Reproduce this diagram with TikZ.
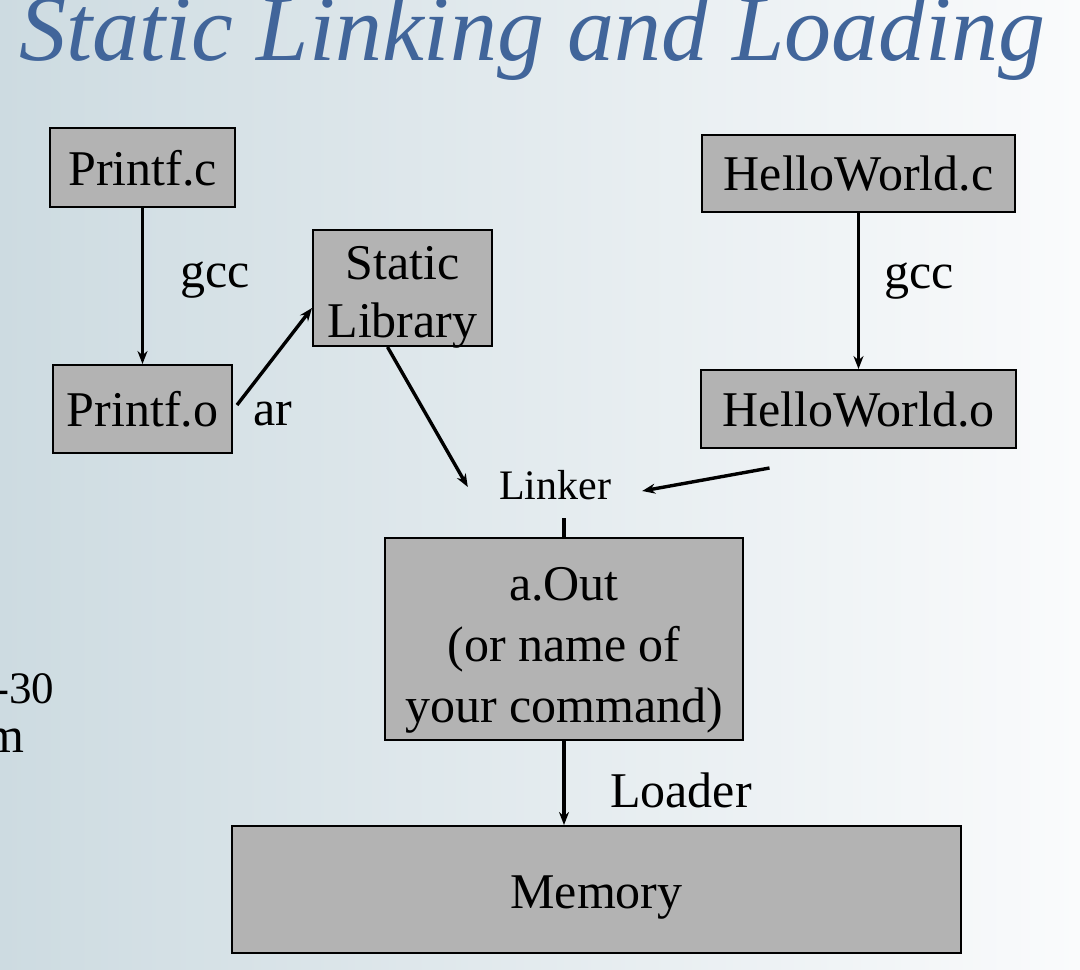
\documentclass[tikz,border=0pt]{standalone}
\usepackage{fontspec}
\setmainfont{LiberationSerif}[Extension=.ttf, UprightFont=*-Regular, ItalicFont=*-Italic, BoldFont=*-Bold, BoldItalicFont=*-BoldItalic]
\usetikzlibrary{arrows.meta}
\definecolor{bgleft}{RGB}{205,219,225}
\definecolor{bgright}{RGB}{250,251,252}
\definecolor{titleblue}{RGB}{65,101,154}
\definecolor{boxgray}{RGB}{179,179,179}
\tikzset{
  box/.style={draw=black, line width=2pt, fill=boxgray, inner sep=0pt, align=center,
    text depth=0pt, font=\fontsize{50}{58}\selectfont},
  lbl/.style={inner sep=0pt, font=\fontsize{50}{58}\selectfont},
  arr/.style={line width=3.4pt, -{Stealth[length=13pt,width=10pt]}},
  plain/.style={line width=3.4pt}
}
\begin{document}
\begin{tikzpicture}[x=1pt,y=-1pt]
\useasboundingbox (0,0) rectangle (1080,970);
\clip (0,0) rectangle (1080,970);
\shade[left color=bgleft, right color=bgright] (0,0) rectangle (1080,970);

\node[anchor=base west, inner sep=0pt, text=titleblue,
  font=\fontsize{94}{100}\selectfont\itshape] (title) at (19,60) {Static Linking and Loading};

\node[lbl, anchor=base west, font=\fontsize{45}{50}\selectfont] (cut1) at (-6,703) {-30};
\node[lbl, anchor=base east] (cut2) at (25,752) {m};

\node[box, minimum width=185pt, minimum height=79pt] (pc) at (142.5,167.5) {Printf.c};
\node[box, minimum width=179pt, minimum height=88pt] (po) at (142.5,409) {Printf.o};
\node[box, minimum width=179pt, minimum height=116pt] (lib) at (402.5,288) {\rule{0pt}{40pt}Static\\Library};
\node[box, minimum width=313pt, minimum height=77pt] (hc) at (858.5,173.5) {HelloWorld.c};
\node[box, minimum width=315pt, minimum height=78pt] (hw) at (858.5,409) {HelloWorld.o};
\node[box, minimum width=358pt, minimum height=202pt, font=\fontsize{50}{61}\selectfont] (aout) at (564,639) {\rule{0pt}{45pt}a.Out\\ (or name of\\your command)};
\node[box, minimum width=729pt, minimum height=127pt] (mem) at (596.5,889.5) {\rule{0pt}{38pt}Memory};

\node[inner sep=0pt, minimum width=174pt, minimum height=66pt, font=\fontsize{42}{48}\selectfont] (lk) at (555,485) {Linker};

\node[lbl] (g1) at (215,280) {gcc};
\node[lbl] (g2) at (919,281) {gcc};
\node[lbl] (ar) at (273,414) {ar};
\node[lbl] (ld) at (681,790) {Loader};

\draw[arr] (pc.south) -- (po.north);
\draw[arr] ([xshift=4pt,yshift=4pt]po.east) -- ([yshift=-20pt]lib.west);
\draw[arr] ([xshift=-15pt]lib.south) -- ([yshift=-2pt]lk.west);
\draw[arr] (hc.south) -- (hw.north);
\draw[arr] ([xshift=-89pt,yshift=-19pt]hw.south) -- ([yshift=-6pt]lk.east);
\draw[plain] (aout.north |- lk.south) -- (aout.north);
\draw[arr] (aout.south) -- (aout.south |- mem.north);
\end{tikzpicture}
\end{document}
